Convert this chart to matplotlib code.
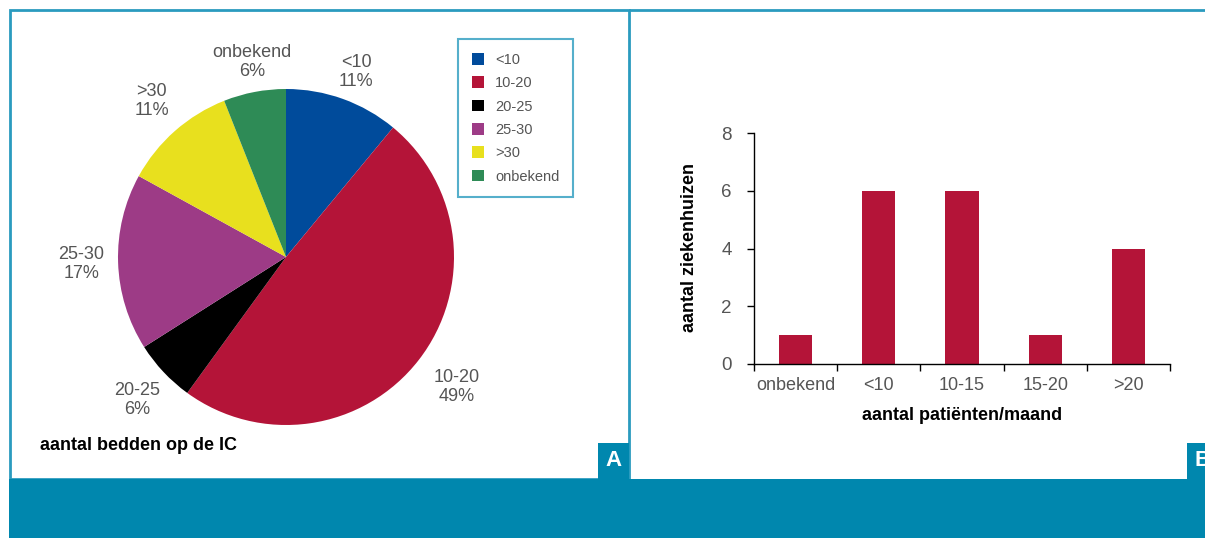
import numpy as np
import matplotlib
matplotlib.use('Agg')
import matplotlib.pyplot as plt
from matplotlib.patches import Rectangle

plt.rcParams['font.family'] = ['Liberation Sans', 'DejaVu Sans']

# pie: aantal bedden op de IC
bed_labels = ['<10', '10-20', '20-25', '25-30', '>30', 'onbekend']
bed_pct = [11, 49, 6, 17, 11, 6]
bed_colors = ['#004b9b', '#b41438', '#000000', '#9d3b86', '#e8e01e', '#2e8b56']

# bars: aantal ziekenhuizen per aantal patienten/maand
pat_labels = ['onbekend', '<10', '10-15', '15-20', '>20']
pat_counts = [1, 6, 6, 1, 4]

TEAL = '#0087ae'
FRAME = '#2a9bbf'
GREY = '#555555'

W, H = 1205, 538
fig = plt.figure(figsize=(W / 100, H / 100), dpi=100)


def fx(px):
    return px / W


def fy(py):
    return 1 - py / H


# frames and bottom band
fig.add_artist(Rectangle((fx(10), fy(479)), fx(629) - fx(10), fy(10) - fy(479),
                         transform=fig.transFigure, fill=False, ec=FRAME, lw=2))
fig.add_artist(plt.Line2D([fx(630), 1], [fy(10), fy(10)], transform=fig.transFigure, color=FRAME, lw=2))
fig.add_artist(Rectangle((fx(9), 0), 1, fy(479), transform=fig.transFigure, color=TEAL, lw=0))
fig.add_artist(Rectangle((fx(598), fy(479)), fx(629) - fx(598), fy(443) - fy(479),
                         transform=fig.transFigure, color=TEAL, lw=0))
fig.add_artist(Rectangle((fx(1187), fy(479)), 1, fy(443) - fy(479),
                         transform=fig.transFigure, color=TEAL, lw=0))
fig.text(fx(613), fy(461), 'A', color='white', fontsize=16, fontweight='bold', ha='center', va='center')
# panel B tag is cut by the right edge in the reference too
fig.text(fx(1194), fy(461), 'B', color='white', fontsize=16, fontweight='bold', ha='left', va='center')

# ---- pie
R = 168
half = 260
ax1 = fig.add_axes([fx(286 - half), fy(257 + half), 2 * half / W, 2 * half / H])
wedges, _ = ax1.pie(bed_pct, colors=bed_colors, startangle=90, counterclock=False,
                    wedgeprops=dict(linewidth=0))
lim = half / R
ax1.set_xlim(-lim, lim)
ax1.set_ylim(-lim, lim)
ax1.axis('off')

label_dist = [1.17, 1.26, 1.24, 1.24, 1.24, 1.18]
for w, lab, p, d in zip(wedges, bed_labels, bed_pct, label_dist):
    ang = np.deg2rad((w.theta1 + w.theta2) / 2)
    ax1.text(d * np.cos(ang) + 0.02, d * np.sin(ang), f'{lab}\n{p}%', ha='center', va='center',
             fontsize=13, color=GREY, linespacing=1.15)

leg = fig.legend(wedges, bed_labels, loc='upper left', bbox_to_anchor=(fx(458), fy(39)),
                 fontsize=10.5, frameon=True, fancybox=False, edgecolor=FRAME,
                 handlelength=0.85, handleheight=0.85, handletextpad=0.75,
                 labelspacing=0.64, borderpad=0.95, borderaxespad=0)
leg.get_frame().set_linewidth(1.5)
for t in leg.get_texts():
    t.set_color(GREY)

fig.text(fx(40), fy(446), 'aantal bedden op de IC', fontsize=13, fontweight='bold', va='center')

# ---- bars
ax2 = fig.add_axes([fx(754), fy(364), (1170 - 754) / W, (364 - 133) / H])
x = np.arange(len(pat_labels))
ax2.bar(x, pat_counts, width=0.4, color='#b41438')
ax2.set_xlim(-0.5, len(pat_labels) - 0.5)
ax2.set_ylim(0, 8)
ax2.set_yticks([0, 2, 4, 6, 8])
ax2.set_xticks(np.arange(-0.5, len(pat_labels), 1))
ax2.set_xticklabels([])
ax2.set_xticks(x, pat_labels, minor=True)
ax2.tick_params(axis='x', which='minor', length=0, pad=9, labelsize=13, labelcolor=GREY)
ax2.tick_params(axis='x', which='major', length=5, width=1, direction='out')
ax2.tick_params(axis='y', length=5, width=1, pad=11, labelsize=13.5, labelcolor=GREY)
for s in ['top', 'right']:
    ax2.spines[s].set_visible(False)
for s in ['left', 'bottom']:
    ax2.spines[s].set_linewidth(1)

fig.text(fx(690), fy(248), 'aantal ziekenhuizen', rotation=90, fontsize=13, fontweight='bold',
         ha='center', va='center')
fig.text(fx(962), fy(415), 'aantal patiënten/maand', fontsize=13, fontweight='bold',
         ha='center', va='center')

fig.savefig('out.png', dpi=100)
